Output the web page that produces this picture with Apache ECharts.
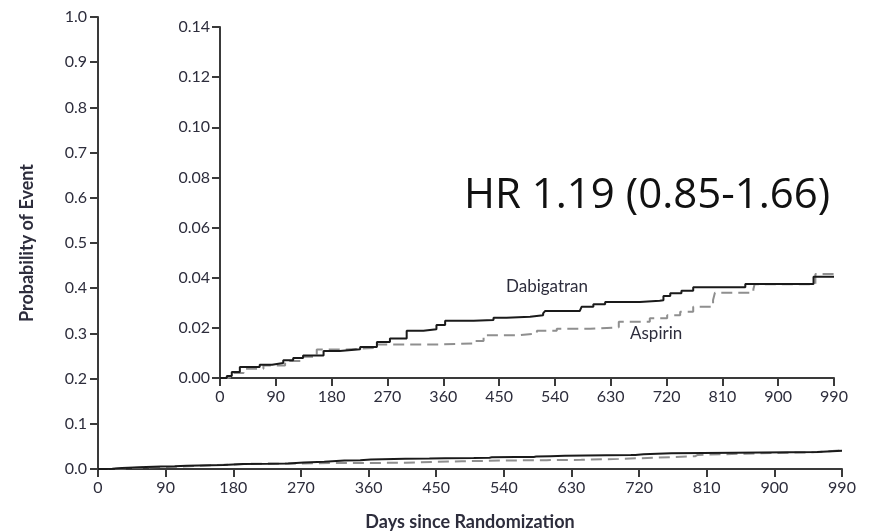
<!DOCTYPE html>
<html>
<head>
<meta charset="utf-8">
<script src="https://cdn.jsdelivr.net/npm/echarts@6/dist/echarts.min.js"></script>
<style>
  html, body { margin: 0; padding: 0; background: #fff; }
  #main { width: 872px; height: 531px; }
</style>
</head>
<body>
<div id="main"></div>
<script>
// step points: day where the curve jumps, and the new cumulative probability
const dabigDays = [0, 11, 19, 32, 64, 84, 102, 118, 134, 167, 193, 226, 253, 274, 301, 328, 349, 363, 409, 441, 462, 500, 521, 524, 556, 580, 583, 602, 621, 677, 709, 715, 726, 744, 763, 847, 957, 990];
const dabigProb = [0, 0.0008, 0.0024, 0.0044, 0.0053, 0.0060, 0.0071, 0.0080, 0.009, 0.0108, 0.0115, 0.0124, 0.0144, 0.0158, 0.0188, 0.0194, 0.0211, 0.0228, 0.0231, 0.024, 0.0244, 0.025, 0.0258, 0.0267, 0.0267, 0.0274, 0.0284, 0.0294, 0.0303, 0.0308, 0.031, 0.0327, 0.0338, 0.0348, 0.0362, 0.0375, 0.0404, 0.0406];

const aspDays = [0, 12, 22, 38, 70, 105, 130, 156, 204, 253, 322, 360, 409, 425, 484, 511, 543, 597, 643, 693, 721, 742, 763, 795, 798, 860, 862, 960, 990];
const aspProb = [0, 0.0006, 0.002, 0.0037, 0.005, 0.0068, 0.0085, 0.0114, 0.012, 0.0134, 0.0134, 0.0138, 0.0148, 0.0171, 0.0178, 0.0188, 0.0196, 0.0202, 0.0224, 0.0238, 0.025, 0.0264, 0.0284, 0.0311, 0.034, 0.0354, 0.0374, 0.0415, 0.0418];

const pairs = (xs, ys) => xs.map((x, i) => [x, ys[i]]);
const dabig = pairs(dabigDays, dabigProb);
const asp = pairs(aspDays, aspProb);

const textColor = '#2d2d3c';
const lineColor = '#3a3a3a';
const font = 'Lato, "Open Sans", sans-serif';

const axisBase = {
    axisLine: { show: true, lineStyle: { color: lineColor, width: 2 } },
    axisTick: { show: true, inside: false, length: 8, lineStyle: { color: lineColor, width: 2 } },
    splitLine: { show: false },
    axisLabel: { color: textColor, fontSize: 16, fontFamily: font }
};

const xAxis = (gridIndex, margin, extra) => Object.assign({}, axisBase, {
    type: 'value', gridIndex, min: 0, max: 990, interval: 90,
    axisLabel: Object.assign({}, axisBase.axisLabel, { margin })
}, extra || {});

const series = (idx, name, data, dashed) => ({
    name, type: 'line', xAxisIndex: idx, yAxisIndex: idx,
    data, step: 'end', showSymbol: false, symbol: 'none', animation: false,
    lineStyle: dashed
        ? { color: '#8f8f8f', width: 2, type: [11, 6] }
        : { color: '#1a1a1a', width: 2 },
    z: dashed ? 2 : 3
});

const nameStyle = { color: textColor, fontSize: 18, fontWeight: 'bold', fontFamily: font };

const chart = echarts.init(document.getElementById('main'));
chart.setOption({
    backgroundColor: '#fff',
    animation: false,
    grid: [
        { left: 98, right: 30, top: 17, bottom: 62, outerBoundsMode: 'none', containLabel: false },
        { left: 220, right: 38, top: 27, bottom: 153, outerBoundsMode: 'none', containLabel: false }
    ],
    xAxis: [
        xAxis(0, 11, {
            name: 'Days since Randomization', nameLocation: 'middle', nameGap: 44,
            nameTextStyle: nameStyle
        }),
        xAxis(1, 11)
    ],
    yAxis: [
        Object.assign({}, axisBase, {
            type: 'value', gridIndex: 0, min: 0, max: 1, interval: 0.1,
            axisLabel: Object.assign({}, axisBase.axisLabel, { margin: 11, formatter: v => v.toFixed(1) }),
            name: 'Probability of Event', nameLocation: 'middle', nameGap: 62, nameRotate: 90,
            nameTextStyle: nameStyle
        }),
        Object.assign({}, axisBase, {
            type: 'value', gridIndex: 1, min: 0, max: 0.14, interval: 0.02,
            axisLabel: Object.assign({}, axisBase.axisLabel, { margin: 10, formatter: v => v.toFixed(2) })
        })
    ],
    series: [
        series(0, 'Aspirin', asp, true),
        series(0, 'Dabigatran', dabig, false),
        series(1, 'Aspirin', asp, true),
        series(1, 'Dabigatran', dabig, false)
    ],
    graphic: [
        { type: 'text', left: 506, top: 278, style: { text: 'Dabigatran', fill: textColor, font: '17px ' + font } },
        { type: 'text', left: 630, top: 325, style: { text: 'Aspirin', fill: textColor, font: '17px ' + font } },
        { type: 'text', x: 464, y: 196, style: { text: 'HR 1.19 (0.85-1.66)', fill: '#111', font: '42px "Open Sans", sans-serif', verticalAlign: 'middle' } }
    ]
});
</script>
</body>
</html>
